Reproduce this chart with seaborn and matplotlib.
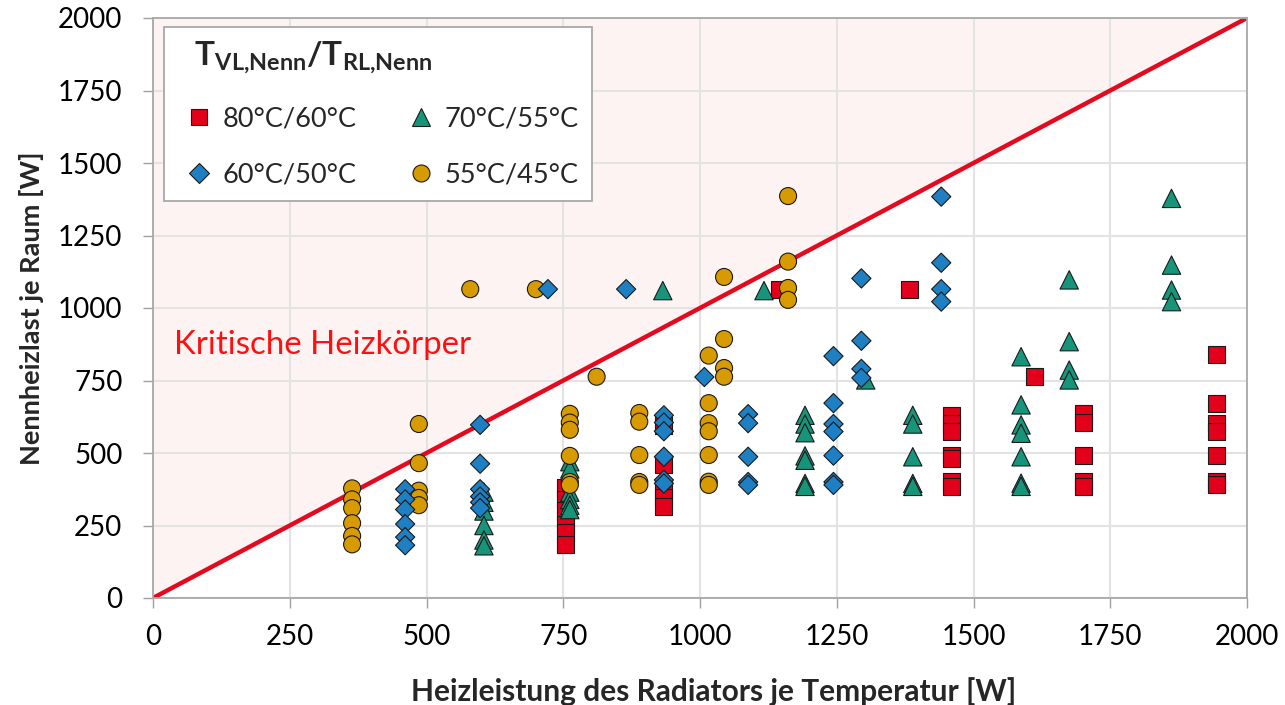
import numpy as np
import pandas as pd
import matplotlib
matplotlib.use("Agg")
import matplotlib.pyplot as plt
from matplotlib.markers import MarkerStyle
from matplotlib.transforms import Affine2D
import seaborn as sns

# ---------------- data ----------------
series_labels = ["80°C/60°C", "70°C/55°C", "60°C/50°C", "55°C/45°C"]

red_x = [755]*6 + [934]*5 + [1145, 1383] + [1459]*7 + [1611] + [1702]*5 + [1944]*7
red_y = [380, 340, 300, 255, 225, 185,
         595, 460, 375, 345, 315,
         1065, 1065,
         630, 600, 575, 493, 480, 400, 385,
         763,
         635, 605, 493, 400, 385,
         838, 671, 602, 574, 493, 400, 390]

green_x = [605]*6 + [762]*6 + [932, 1117] + [1192]*7 + [1303] + [1389]*5 + [1587]*7 + [1675]*4 + [1862]*4
green_y = [365, 330, 300, 250, 200, 180,
           470, 445, 365, 340, 320, 305,
           1060, 1060,
           630, 600, 570, 490, 475, 395, 385,
           752,
           630, 600, 487, 395, 385,
           832, 666, 597, 568, 487, 396, 385,
           1097, 884, 786, 752,
           1378, 1148, 1062, 1022]

orange_x = [364]*6 + [486]*5 + [580, 700] + [762]*6 + [811] + [889]*5 + [1016]*7 + [1044]*4 + [1161]*4
orange_y = [378, 340, 310, 258, 214, 185,
            600, 465, 370, 345, 320,
            1065, 1065,
            635, 605, 580, 490, 400, 390,
            763,
            638, 608, 493, 400, 390,
            836, 672, 603, 575, 493, 401, 390,
            1107, 893, 793, 763,
            1386, 1160, 1069, 1028]

blue_x = [461]*6 + [598]*6 + [722, 865] + [934]*6 + [1008] + [1088]*5 + [1244]*7 + [1295]*4 + [1441]*4
blue_y = [375, 340, 305, 255, 210, 182,
          597, 463, 375, 350, 330, 310,
          1065, 1065,
          630, 605, 575, 487, 407, 395,
          762,
          634, 603, 487, 400, 390,
          834, 672, 600, 574, 491, 400, 390,
          1102, 887, 790, 759,
          1384, 1156, 1065, 1022]

diag_x = [0, 2000]
diag_y = [0, 2000]
ticks = list(range(0, 2001, 250))

# ---------------- style ----------------
sns.set_theme(style="white")
plt.rcParams["font.family"] = ["Lato", "DejaVu Sans"]
plt.rcParams["mathtext.fontset"] = "custom"
plt.rcParams["mathtext.rm"] = "Lato"
plt.rcParams["mathtext.bf"] = "Lato:bold"
plt.rcParams["mathtext.it"] = "Lato:italic"

colors = {"80°C/60°C": "#E2001A", "70°C/55°C": "#17957A",
          "60°C/50°C": "#1E7FC3", "55°C/45°C": "#D79A00"}
markers = {"80°C/60°C": "s",
           "70°C/55°C": MarkerStyle("^", transform=Affine2D().scale(1.08)),
           "60°C/50°C": MarkerStyle("D", transform=Affine2D().scale(0.8)),
           "55°C/45°C": "o"}

frames = []
for lab, xs, ys in [("80°C/60°C", red_x, red_y), ("70°C/55°C", green_x, green_y),
                    ("55°C/45°C", orange_x, orange_y), ("60°C/50°C", blue_x, blue_y)]:
    frames.append(pd.DataFrame({"x": xs, "y": ys, "serie": lab}))
df = pd.concat(frames, ignore_index=True)

fig = plt.figure(figsize=(12.85, 7.05), dpi=100)
ax = fig.add_axes([153/1285, 1-598/705, 1094/1285, 580/705])

ax.fill_between(diag_x, diag_y, 2000, color="#FDF3F3", zorder=0, linewidth=0)
ax.set_axisbelow(True)
ax.grid(True, color="#E3E3E3", linewidth=1.5, zorder=0.5)
ax.plot(diag_x, diag_y, color="#E30A1F", linewidth=3.2, zorder=2, solid_capstyle="butt")

sns.scatterplot(data=df, x="x", y="y", hue="serie", style="serie",
                hue_order=series_labels, style_order=series_labels,
                palette=colors, markers=markers, s=150,
                edgecolor="#1a1a1a", linewidth=0.8, ax=ax, zorder=3, legend="full")

ax.set_xlim(0, 2000)
ax.set_ylim(0, 2000)
ax.set_xticks(ticks)
ax.set_yticks(ticks)
ax.tick_params(axis="both", which="both", direction="out", length=7, width=1,
               color="#A0A0A0", labelsize=20, labelcolor="black",
               bottom=True, left=True)
ax.tick_params(axis="y", pad=15)
ax.tick_params(axis="x", pad=12)
for side in ["left", "bottom", "top", "right"]:
    ax.spines[side].set_visible(True)
    ax.spines[side].set_color("#A8A8A8")
    ax.spines[side].set_linewidth(1.3)

ax.set_xlabel("Heizleistung des Radiators je Temperatur [W]", fontsize=21.5,
              fontweight="bold", labelpad=19)
ax.xaxis.label.set_x(0.512)
ax.set_ylabel("Nennheizlast je Raum [W]", fontsize=19.5, fontweight="bold", labelpad=10)

ax.text(38, 841, "Kritische Heizkörper", color="#FF1010", fontsize=23.8,
        va="baseline", ha="left", zorder=2.5)

h, l = ax.get_legend_handles_labels()
hm = dict(zip(l, h))
order = ["80°C/60°C", "60°C/50°C", "70°C/55°C", "55°C/45°C"]
for lab in order:
    hm[lab].set_markersize(12.2)
leg = ax.legend([hm[k] for k in order], order, ncol=2, loc="upper left",
                bbox_to_anchor=(0.010, 0.985), borderaxespad=0,
                title=r"$\,\,\,\,\mathbf{T}_{\mathbf{VL{,}Nenn}}\mathbf{/T}_{\mathbf{RL{,}Nenn}}$",
                title_fontsize=24, fontsize=19.5, frameon=True, fancybox=False,
                framealpha=1, edgecolor="#A8A8A8", handletextpad=0.05,
                columnspacing=1.6, labelspacing=1.12, borderpad=0.5,
                handlelength=1.6, alignment="left")
leg.get_frame().set_linewidth(1.3)
leg.set_zorder(5)

fig.savefig("out.png", dpi=100)
